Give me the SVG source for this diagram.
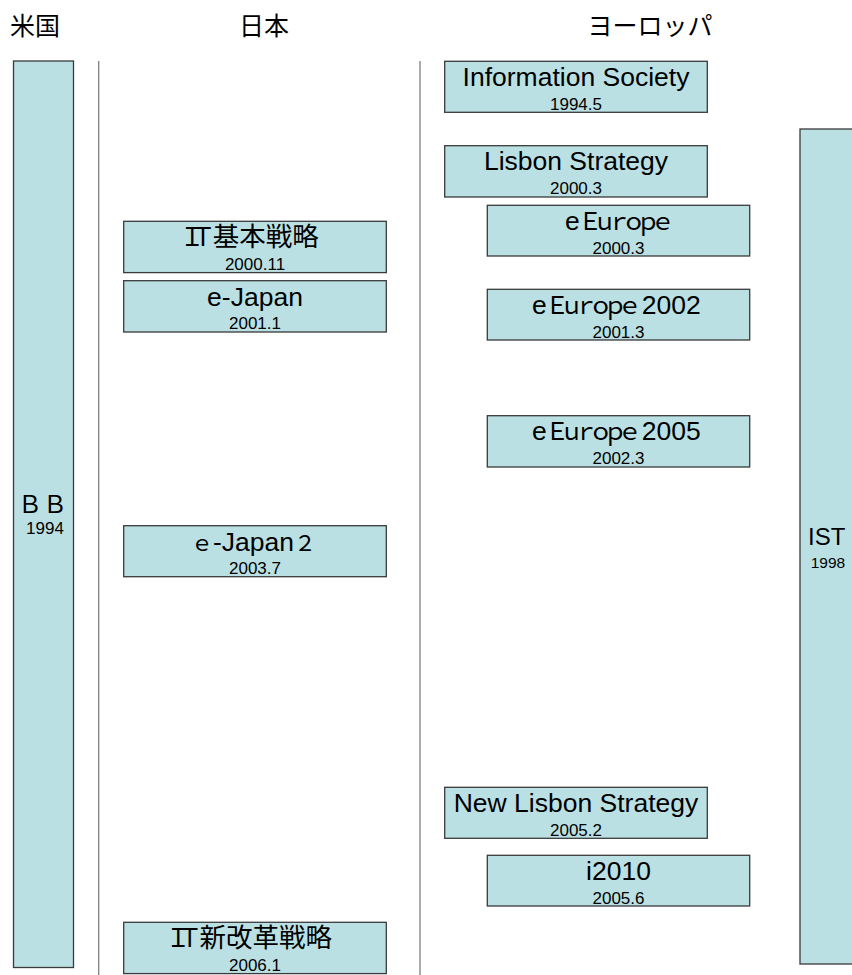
<svg xmlns="http://www.w3.org/2000/svg" width="852" height="975" viewBox="0 0 852 975">
<style>
.box{fill:#BBE0E3;stroke:#3a3a3a;stroke-width:1.3}
.div{stroke:#7f7f7f;stroke-width:1.3}
.t{font-family:"Liberation Sans","Noto Sans CJK JP",sans-serif;font-size:26.5px;fill:#000}
.d{font-family:"Liberation Sans",sans-serif;font-size:17px;fill:#000;text-anchor:middle}
.fw{font-family:"Noto Sans CJK JP",sans-serif;font-size:24px}
.h{font-family:"Noto Sans CJK JP",sans-serif;font-size:25px;fill:#000;text-anchor:middle}
.m{text-anchor:middle}
</style>
<rect width="852" height="975" fill="#fff"/>
<g id="headers">
<text class="h" x="35" y="35">米国</text>
<text class="h" x="264" y="35">日本</text>
<text class="h" x="650" y="35">ヨーロッパ</text>
</g>
<g id="dividers">
<line class="div" x1="98.7" y1="61" x2="98.7" y2="975"/>
<line class="div" x1="420" y1="61" x2="420" y2="975"/>
</g>
<g id="us-bb">
<rect class="box" x="13.5" y="61" width="60" height="906.5"/>
<text class="t" x="18" y="512.7"><tspan class="fw" dx="0 1">ＢＢ</tspan></text>
<text class="d" x="45" y="534">1994</text>
</g>
<g id="jp-it-kihon">
<rect class="box" x="123.7" y="221.3" width="262.6" height="51.3"/>
<text class="t" x="179.8" y="246.3"><tspan class="fw" style="font-size:25px" dx="0 -14.3">ＩＴ</tspan><tspan dx="-2.7">基本戦略</tspan></text>
<text class="d" x="255" y="269.8">2000.11</text>
</g>
<g id="jp-ejapan">
<rect class="box" x="123.7" y="280.7" width="262.6" height="51.3"/>
<text class="t m" x="255" y="305.5">e-Japan</text>
<text class="d" x="255" y="329.2">2001.1</text>
</g>
<g id="jp-ejapan2">
<rect class="box" x="123.7" y="525.7" width="262.6" height="51"/>
<text class="t" x="191" y="550.5"><tspan class="fw" style="font-size:22px">ｅ</tspan>-Japan<tspan class="fw" style="font-size:22px">２</tspan></text>
<text class="d" x="255" y="574">2003.7</text>
</g>
<g id="jp-it-shinkaikaku">
<rect class="box" x="123.7" y="922.3" width="262.6" height="51.3"/>
<text class="t" x="165.8" y="947.3"><tspan class="fw" style="font-size:25px" dx="0 -13.6">ＩＴ</tspan><tspan dx="-2.7">新改革戦略</tspan></text>
<text class="d" x="255" y="970.8">2006.1</text>
</g>
<g id="eu-info-society">
<rect class="box" x="444.7" y="61.3" width="262.6" height="51"/>
<text class="t m" x="576" y="85.8">Information Society</text>
<text class="d" x="576" y="109.8">1994.5</text>
</g>
<g id="eu-lisbon">
<rect class="box" x="444.7" y="145.7" width="262.6" height="51.3"/>
<text class="t m" x="576" y="170.2">Lisbon Strategy</text>
<text class="d" x="576" y="194.2">2000.3</text>
</g>
<g id="eu-eeurope">
<rect class="box" x="487.3" y="205.3" width="262.4" height="50.7"/>
<text class="t" x="565" y="229.8">e<tspan class="fw" dx="-1.5 -9.5 -9.5 -9.5 -9.5 -9.5">Ｅｕｒｏｐｅ</tspan></text>
<text class="d" x="618.5" y="253.8">2000.3</text>
</g>
<g id="eu-eeurope2002">
<rect class="box" x="487.3" y="289.3" width="262.4" height="50.7"/>
<text class="t" x="532" y="313.8">e<tspan class="fw" dx="-1.5 -9.5 -9.5 -9.5 -9.5 -9.5">Ｅｕｒｏｐｅ</tspan>2002</text>
<text class="d" x="618.5" y="337.8">2001.3</text>
</g>
<g id="eu-eeurope2005">
<rect class="box" x="487.3" y="415.7" width="262.4" height="51.3"/>
<text class="t" x="532" y="440.2">e<tspan class="fw" dx="-1.5 -9.5 -9.5 -9.5 -9.5 -9.5">Ｅｕｒｏｐｅ</tspan>2005</text>
<text class="d" x="618.5" y="464.2">2002.3</text>
</g>
<g id="eu-new-lisbon">
<rect class="box" x="444.7" y="787.3" width="262.6" height="51"/>
<text class="t m" x="576" y="811.8">New Lisbon Strategy</text>
<text class="d" x="576" y="835.8">2005.2</text>
</g>
<g id="eu-i2010">
<rect class="box" x="487.3" y="855.3" width="262.4" height="50.7"/>
<text class="t m" x="618.5" y="879.8">i2010</text>
<text class="d" x="618.5" y="903.8">2005.6</text>
</g>
<g id="eu-ist">
<rect class="box" x="800" y="129" width="60" height="835"/>
<text class="t m" x="826.7" y="545" style="font-size:24px">IST</text>
<text class="d" x="828" y="568.3" style="font-size:15.5px">1998</text>
</g>
</svg>
